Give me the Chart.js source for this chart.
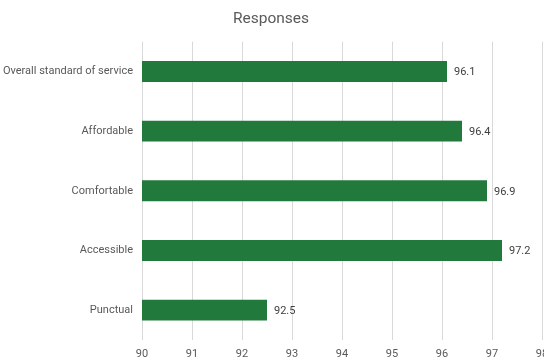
<!DOCTYPE html>
<html>
<head>
<meta charset="utf-8">
<script src="https://cdn.jsdelivr.net/npm/chart.js@4"></script>
<style>
html,body{margin:0;padding:0;background:#fff;overflow:hidden;}
#wrap{width:544px;height:361px;position:relative;}
</style>
</head>
<body>
<div id="wrap"><canvas id="c"></canvas></div>
<script>
const categories = ["Overall standard of service", "Affordable", "Comfortable", "Accessible", "Punctual"];
const values = [96.1, 96.4, 96.9, 97.2, 92.5];
const xMin = 90, xMax = 98;

const FONT = 'Roboto, "Liberation Sans", sans-serif';

const valueLabels = {
  id: 'valueLabels',
  afterDatasetsDraw(chart) {
    const ctx = chart.ctx;
    const meta = chart.getDatasetMeta(0);
    ctx.save();
    ctx.font = '11px ' + FONT;
    ctx.fillStyle = '#404040';
    ctx.textAlign = 'left';
    ctx.textBaseline = 'middle';
    meta.data.forEach((bar, i) => {
      ctx.fillText(String(values[i]), bar.x + 7, bar.y + 1);
    });
    ctx.restore();
  }
};

new Chart(document.getElementById('c'), {
  type: 'bar',
  data: {
    labels: categories,
    datasets: [{
      data: values,
      backgroundColor: '#217A3C',
      borderWidth: 0,
      barPercentage: 0.35,
      categoryPercentage: 1.0
    }]
  },
  options: {
    indexAxis: 'y',
    responsive: true,
    maintainAspectRatio: false,
    animation: false,
    layout: { padding: { left: 0, right: 2, top: 0, bottom: -8 } },
    plugins: {
      legend: { display: false },
      tooltip: { enabled: false },
      title: {
        display: true,
        text: 'Responses',
        color: '#595959',
        font: { family: FONT, size: 15.5, weight: 'normal' },
        padding: { top: 10, bottom: 13 }
      }
    },
    scales: {
      x: {
        min: xMin,
        max: xMax,
        ticks: {
          stepSize: 1,
          color: '#595959',
          padding: 9,
          font: { family: FONT, size: 11, lineHeight: 1.0 }
        },
        grid: { color: '#d9d9d9', drawTicks: false },
        border: { display: false },
        afterFit(scale) { scale.paddingRight = 0; }
      },
      y: {
        ticks: {
          color: '#595959',
          padding: 9,
          font: { family: FONT, size: 11 }
        },
        grid: { display: false, drawTicks: false },
        border: { display: false },
        afterFit(scale) { scale.width = 142; }
      }
    }
  },
  plugins: [valueLabels]
});
</script>
</body>
</html>
